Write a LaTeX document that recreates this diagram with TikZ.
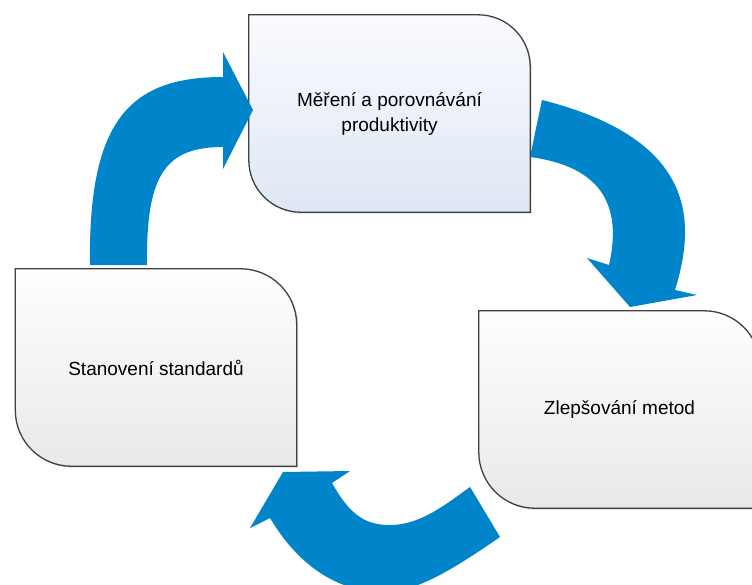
\documentclass[tikz,border=0pt]{standalone}
\usepackage{fontspec}
\setmainfont{Liberation Sans}
\usetikzlibrary{shadows}

\definecolor{cycleblue}{RGB}{0,132,202}
\definecolor{boxedge}{RGB}{64,64,64}
\definecolor{bluetop}{RGB}{250,251,254}
\definecolor{bluebottom}{RGB}{222,231,245}
\definecolor{greytop}{RGB}{254,254,254}
\definecolor{greybottom}{RGB}{233,233,233}

\pgfdeclarelayer{back}
\pgfdeclarelayer{boxes}
\pgfsetlayers{back,boxes,main}

% box with round top right and bottom left corners
\newcommand{\cyclebox}[4]{%
  \begin{pgfonlayer}{boxes}
    \draw[boxline, top color=#2, bottom color=#3] (#1.north west) -- ([xshift=-#4pt]#1.north east)
      arc[start angle=90, end angle=0, radius=#4pt] -- (#1.south east) -- ([xshift=#4pt]#1.south west)
      arc[start angle=270, end angle=180, radius=#4pt] -- cycle;
  \end{pgfonlayer}}

\begin{document}
\begin{tikzpicture}[x=1pt, y=1pt,
    boxline/.style={draw=boxedge, line width=1.3pt, drop shadow={shadow xshift=1.5pt, shadow yshift=-1.5pt, opacity=0.3}},
    stepbox/.style={minimum width=281pt, minimum height=197pt, inner sep=0pt, align=center, font=\fontsize{19}{25}\selectfont},
    bigarrow/.style={fill=cycleblue, draw=none}]
    \useasboundingbox (0,0) rectangle (752,-584);

    % Draw the three steps
    \node[stepbox] (measure) at (389.5,-113.5) {Měření a porovnávání\\produktivity};
    \node[stepbox] (standards) at (156,-367.5) {Stanovení standardů};
    \node[stepbox] (methods) at (619.5,-409.5) {Zlepšování metod};
    \cyclebox{measure}{bluetop}{bluebottom}{52}
    \cyclebox{standards}{greytop}{greybottom}{56}
    \cyclebox{methods}{greytop}{greybottom}{56}

    % Arrow from measuring to methods, behind the boxes
    \begin{pgfonlayer}{back}
      \path[bigarrow] (542,-100) -- (530,-157) .. controls (590,-165) and (625,-195) .. (609,-265)
        -- (587,-258) -- (630,-307) -- (697,-295) -- (675,-290)
        .. controls (695,-225) and (700,-140) .. (542,-100) -- cycle;
    \end{pgfonlayer}

    % Arrow from standards up to measuring
    \path[bigarrow] (90,-265) -- (147,-265) .. controls (146,-175) and (165,-147) .. (223,-147)
      -- (223,-169) -- (253,-110) -- (223,-52) -- (223,-77)
      .. controls (130,-77) and (88,-120) .. (90,-265) -- cycle;

    % Arrow from methods back to standards
    \path[bigarrow] (470,-487) -- (500,-537) .. controls (445,-575) and (410,-595) .. (375,-592)
      .. controls (330,-588) and (295,-560) .. (270,-518)
      -- (250,-528) -- (283,-472) -- (350,-471) -- (332,-483)
      .. controls (350,-515) and (365,-525) .. (390,-525)
      .. controls (420,-525) and (445,-505) .. (470,-487) -- cycle;
\end{tikzpicture}
\end{document}
